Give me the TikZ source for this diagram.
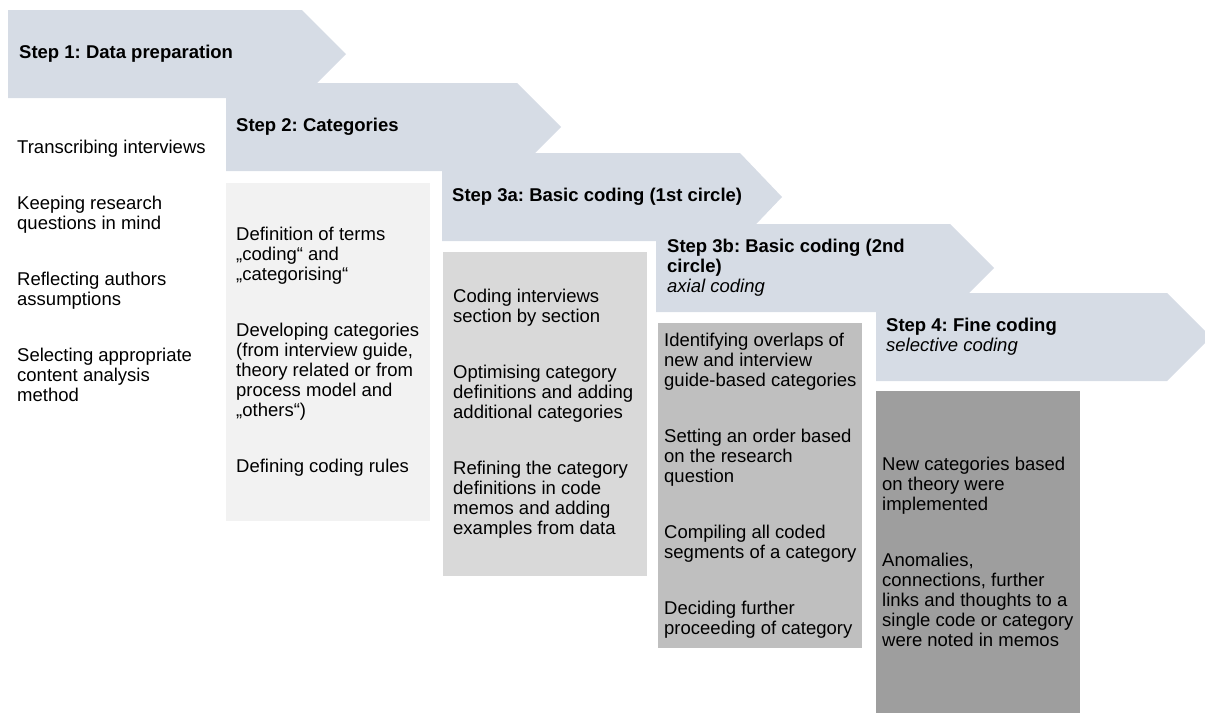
\documentclass[tikz,border=0pt]{standalone}
\usepackage{fontspec}
\setmainfont{Liberation Sans}
\usepackage{tikz}
\frenchspacing

\definecolor{stepfill}{HTML}{D6DCE5}
\definecolor{boxtwo}{HTML}{F2F2F2}
\definecolor{boxthreea}{HTML}{D9D9D9}
\definecolor{boxthreeb}{HTML}{BFBFBF}
\definecolor{boxfour}{HTML}{9E9E9E}

\begin{document}
\begin{tikzpicture}[x=1pt,y=-1pt,
   every node/.style={font=\fontsize{18.5}{20}\selectfont,inner sep=0pt,align=left},
   steptitle/.style={anchor=west,font=\fontsize{18.5}{20}\selectfont\bfseries},
   taskbox/.style={anchor=north west,minimum width=204pt},
   tasktext/.style={anchor=west}]
\useasboundingbox (0,0) rectangle (1205,713);
% step arrows: left/top/body right/tip
\foreach \l/\t/\r/\p in {8/10/302/346, 226/83/517/561, 442/153/740/782,
   656/224/950/994, 876/293/1167/1211}
   \fill[stepfill] (\l,\t) -- (\r,\t) -- (\p,{\t+44}) -- (\r,{\t+88})
      -- (\l,{\t+88}) -- cycle;
\node[steptitle] (s1) at (19,53.5) {Step 1: Data preparation};
\node[steptitle] (s2) at (236,127) {Step 2: Categories};
\node[steptitle] (s3a) at (452,197) {Step 3a: Basic coding (1st circle)};
\node[steptitle] (s3b) at (667,268) {Step 3b: Basic coding (2nd\\circle)\\
   {\mdseries\itshape axial coding}};
\node[steptitle] (s4) at (886,336.5) {Step 4: Fine coding\\
   {\mdseries\itshape selective coding}};
% boxes below the steps
\node[taskbox,fill=boxtwo,minimum height=338pt] (b2) at (226,183) {};
\node[taskbox,fill=boxthreea,minimum height=324pt] (b3a) at (443,252) {};
\node[taskbox,fill=boxthreeb,minimum height=325pt] (b3b) at (658,323) {};
\node[taskbox,fill=boxfour,minimum height=322pt] (b4) at (876,391) {};
% tasks of each step
\node[tasktext] (t1) at (17,271) {Transcribing interviews\\[36pt]
   Keeping research\\questions in mind\\[36pt]
   Reflecting authors\\assumptions\\[36pt]
   Selecting appropriate\\content analysis\\method};
\node[tasktext] (t2) at ([xshift=10pt]b2.west)
   {Definition of terms\\„coding“ and\\„categorising“\\[36pt]
   Developing categories\\(from interview guide,\\theory related or from\\process model and\\„others“)\\[36pt]
   Defining coding rules};
\node[tasktext] (t3a) at ([xshift=10pt]b3a.west)
   {Coding interviews\\section by section\\[36pt]
   Optimising category\\definitions and adding\\additional categories\\[36pt]
   Refining the category\\definitions in code\\memos and adding\\examples from data};
\node[tasktext] (t3b) at ([xshift=6pt]b3b.west)
   {Identifying overlaps of\\new and interview\\guide-based categories\\[36pt]
   Setting an order based\\on the research\\question\\[36pt]
   Compiling all coded\\segments of a category\\[36pt]
   Deciding further\\proceeding of category};
\node[tasktext] (t4) at ([xshift=6pt]b4.west)
   {New categories based\\on theory were\\implemented\\[36pt]
   Anomalies,\\connections, further\\links and thoughts to a\\single code or category\\were noted in memos};
\end{tikzpicture}
\end{document}
